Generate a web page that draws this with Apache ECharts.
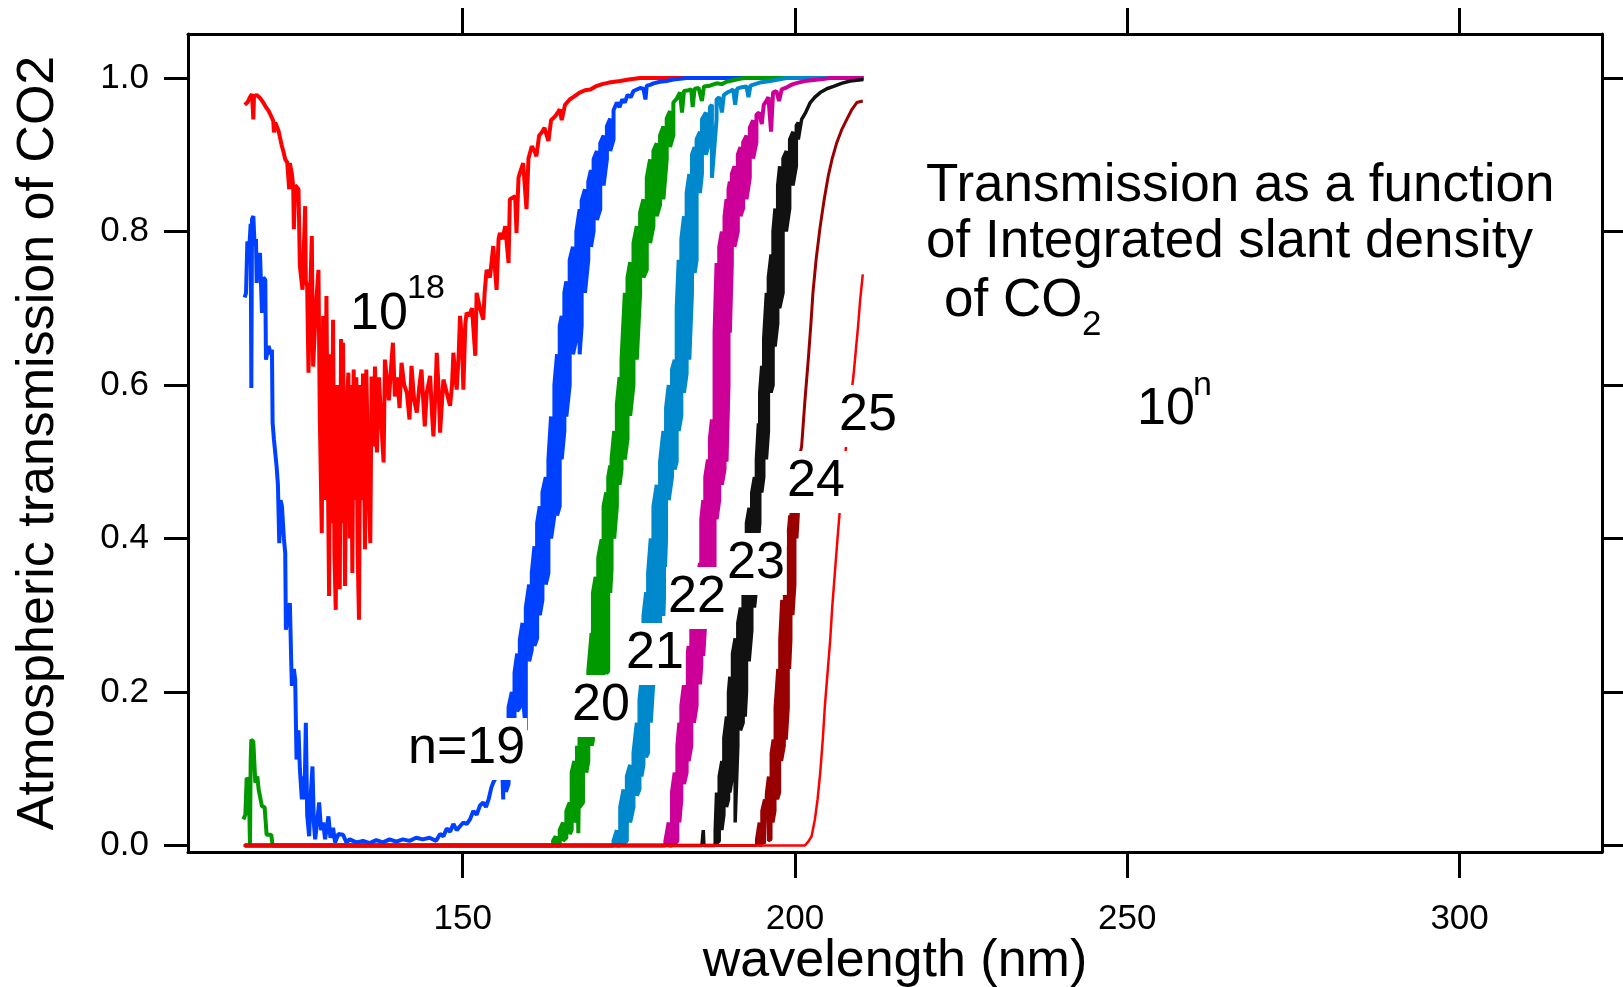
<!DOCTYPE html>
<html>
<head>
<meta charset="utf-8">
<title>Transmission of CO2</title>
<script src="https://cdn.jsdelivr.net/npm/echarts/dist/echarts.min.js"></script>
<style>
  html, body { margin: 0; padding: 0; background: #fff; }
  #chart { width: 1623px; height: 987px; }
</style>
</head>
<body>
<div id="chart"></div>
<script>
// tick positions
var xTicks = [150, 200, 250, 300];
var yTicks = [0, 0.2, 0.4, 0.6, 0.8, 1.0];

// [wavelength nm, transmission]
var n18 = [[117.2,0.965],[117.6,0.968],[118.0,0.975],[118.3,0.979],[118.5,0.946],[118.6,0.976],[119.0,0.978],[119.5,0.974],[120.0,0.968],[120.4,0.962],[120.8,0.957],[121.2,0.950],[121.5,0.944],[121.6,0.929],[121.8,0.942],[122.3,0.931],[122.8,0.911],[123.0,0.905],[123.3,0.894],[123.6,0.890],[123.9,0.855],[124.0,0.889],[124.3,0.875],[124.5,0.859],[124.6,0.803],[124.8,0.860],[125.3,0.855],[125.5,0.755],[125.9,0.724],[126.3,0.833],[126.4,0.735],[126.6,0.729],[126.8,0.616],[127.0,0.700],[127.3,0.794],[127.4,0.700],[127.5,0.624],[127.9,0.700],[128.3,0.750],[128.5,0.560],[128.8,0.407],[129.0,0.690],[129.3,0.450],[129.5,0.716],[129.7,0.500],[129.9,0.325],[130.1,0.640],[130.3,0.420],[130.5,0.685],[130.7,0.380],[130.9,0.307],[131.1,0.600],[131.3,0.360],[131.5,0.334],[131.7,0.660],[131.9,0.420],[132.0,0.655],[132.3,0.338],[132.5,0.560],[132.8,0.616],[133.0,0.400],[133.2,0.600],[133.4,0.355],[133.6,0.620],[133.8,0.450],[134.0,0.610],[134.2,0.380],[134.4,0.294],[134.6,0.600],[134.8,0.450],[135.0,0.615],[135.3,0.386],[135.5,0.620],[135.8,0.480],[136.1,0.394],[136.3,0.611],[136.6,0.520],[136.8,0.624],[137.1,0.512],[137.4,0.610],[137.7,0.560],[138.1,0.499],[138.3,0.633],[138.6,0.607],[138.9,0.580],[139.2,0.620],[139.5,0.655],[139.8,0.585],[140.2,0.610],[140.5,0.570],[140.8,0.629],[141.2,0.600],[141.6,0.590],[142.0,0.555],[142.3,0.625],[142.7,0.580],[143.1,0.564],[143.5,0.600],[143.8,0.620],[144.1,0.575],[144.3,0.546],[144.6,0.590],[145.1,0.612],[145.4,0.560],[145.6,0.533],[145.9,0.590],[146.1,0.642],[146.4,0.590],[146.6,0.538],[146.9,0.580],[147.1,0.607],[147.6,0.590],[148.1,0.573],[148.4,0.600],[148.6,0.642],[148.9,0.610],[149.1,0.594],[149.4,0.640],[149.6,0.690],[149.9,0.660],[150.1,0.594],[150.4,0.680],[150.6,0.694],[151.0,0.690],[151.4,0.700],[151.9,0.638],[152.1,0.720],[152.6,0.700],[153.1,0.685],[153.3,0.720],[153.6,0.750],[154.1,0.740],[154.6,0.781],[155.1,0.724],[155.4,0.790],[155.6,0.798],[156.0,0.790],[156.4,0.807],[156.9,0.759],[157.1,0.842],[157.4,0.842],[157.9,0.846],[158.1,0.798],[158.4,0.870],[158.6,0.876],[159.1,0.889],[159.6,0.829],[159.9,0.895],[160.4,0.911],[160.8,0.905],[161.1,0.898],[161.5,0.925],[161.9,0.929],[162.3,0.935],[162.6,0.937],[162.9,0.918],[163.3,0.945],[163.9,0.950],[164.3,0.955],[164.6,0.959],[164.9,0.945],[165.4,0.965],[166.1,0.972],[166.8,0.976],[167.6,0.981],[168.4,0.984],[169.2,0.985],[170.0,0.989],[171.0,0.992],[172.0,0.994],[173.7,0.996],[175.0,0.998],[176.7,1.0],[210.3,1.0]];

var n19 = [[117.2,0.714],[117.4,0.720],[117.6,0.787],[117.9,0.780],[118.1,0.810],[118.2,0.596],[118.3,0.816],[118.5,0.820],[118.7,0.781],[118.9,0.790],[119.0,0.733],[119.2,0.760],[119.5,0.772],[119.8,0.694],[120.0,0.740],[120.3,0.737],[120.4,0.633],[120.8,0.651],[121.1,0.640],[121.3,0.646],[121.4,0.551],[121.6,0.529],[122.0,0.494],[122.2,0.470],[122.4,0.394],[122.6,0.450],[122.8,0.442],[123.1,0.400],[123.3,0.381],[123.4,0.281],[123.7,0.300],[124.0,0.316],[124.2,0.240],[124.3,0.208],[124.6,0.230],[124.8,0.216],[125.0,0.112],[125.3,0.150],[125.5,0.100],[125.8,0.060],[126.0,0.090],[126.2,0.060],[126.4,0.160],[126.6,0.040],[126.9,0.012],[127.1,0.060],[127.4,0.103],[127.6,0.030],[127.8,0.008],[128.1,0.030],[128.4,0.056],[128.7,0.020],[129.0,0.030],[129.3,0.008],[129.8,0.038],[130.1,0.010],[130.5,0.023],[130.8,0.004],[131.3,0.015],[132.0,0.014],[132.5,0.004],[133.0,0.008],[134.0,0.004],[135.0,0.006],[136.0,0.003],[137.0,0.007],[138.0,0.004],[139.0,0.008],[140.0,0.005],[141.0,0.008],[142.0,0.006],[143.0,0.010],[144.0,0.008],[145.0,0.010],[146.0,0.006],[146.6,0.015],[147.1,0.012],[147.6,0.022],[148.1,0.018],[148.6,0.028],[149.1,0.020],[149.6,0.025],[150.1,0.030],[150.6,0.028],[151.1,0.034],[151.6,0.045],[152.1,0.040],[152.6,0.052],[153.1,0.056],[153.5,0.050],[153.9,0.060],[154.3,0.075],[154.6,0.082],[155.1,0.090],[155.6,0.095],[156.0,0.088],
  [156.1,0.06],[156.1,0.09],[156.5,0.12],[156.5,0.07],[156.9,0.08],[156.9,0.18],[157.4,0.20],[157.4,0.09],[157.8,0.16],[157.8,0.225],[158.2,0.25],[158.2,0.175],[158.6,0.18],[158.6,0.268],[159.0,0.29],[159.0,0.20],[159.5,0.15],[159.5,0.31],[160.0,0.34],[160.0,0.24],[160.4,0.255],[160.4,0.355],[160.8,0.39],[160.8,0.26],[161.2,0.27],[161.2,0.42],[161.6,0.442],[161.6,0.30],[162.0,0.32],[162.0,0.46],[162.5,0.48],[162.5,0.34],[162.9,0.355],[162.9,0.503],[163.3,0.559],[163.3,0.40],[163.8,0.43],[163.8,0.60],[164.2,0.64],[164.2,0.43],[164.6,0.442],[164.6,0.677],[164.9,0.69],[164.9,0.503],[165.3,0.54],[165.3,0.72],[165.6,0.735],[165.6,0.559],[166.1,0.60],[166.1,0.763],[166.6,0.78],[166.6,0.64],[167.1,0.66],[167.1,0.80],[167.6,0.829],[167.6,0.64],[167.9,0.677],[167.9,0.84],[168.4,0.855],[168.4,0.72],[168.9,0.763],[168.9,0.865],[169.3,0.88],[169.3,0.78],[169.7,0.80],[169.7,0.894],[170.2,0.905],[170.2,0.815],[170.7,0.829],[170.7,0.915],[171.2,0.925],[171.2,0.86],[171.7,0.894],[171.7,0.937],[172.2,0.947],[172.2,0.905],[172.7,0.92],[172.7,0.958],[173.2,0.968],
  [173.6,0.962],[174.0,0.972],[174.4,0.968],[174.8,0.978],[175.3,0.975],[175.7,0.983],[176.2,0.985],[176.7,0.987],[177.2,0.986],[177.5,0.972],[177.7,0.990],[178.2,0.991],[178.7,0.993],[179.7,0.995],[180.7,0.996],[181.7,0.998],[182.7,0.999],[183.7,1.0],[210.3,1.0]];

var n20 = [[117.0,0.034],[117.3,0.040],[117.5,0.088],[117.8,0.085],[118.0,0.0],[118.1,0.110],[118.2,0.138],[118.5,0.135],[118.8,0.082],[119.1,0.090],[119.3,0.073],[119.6,0.075],[119.8,0.051],[120.2,0.050],[120.5,0.014],[121.2,0.014],[121.4,0.0],[163.0,0.0],
  [163.6,0],[163.6,0.006],[164.0,0.012],[164.0,0],[164.6,0],[164.6,0.02],[165.1,0.03],[165.1,0.006],[165.6,0.01],[165.6,0.045],[166.1,0.056],[166.1,0.015],[166.4,0.02],[166.4,0.095],[166.8,0.11],[166.8,0.03],[167.2,0.04],[167.2,0.13],[167.4,0.016],[167.6,0.147],[167.6,0.05],[168.1,0.056],[168.1,0.18],[168.6,0.21],[168.6,0.095],[168.9,0.11],[168.9,0.227],[169.4,0.277],[169.4,0.13],[169.6,0.137],[169.6,0.329],[170.0,0.35],[170.0,0.145],[170.4,0.147],[170.4,0.375],[170.9,0.399],[170.9,0.18],[171.2,0.2],[171.2,0.442],[171.6,0.46],[171.6,0.224],[171.9,0.227],[171.9,0.48],[172.2,0.495],[172.2,0.329],[172.4,0.36],[172.4,0.503],[172.8,0.54],[172.8,0.40],[173.2,0.442],[173.2,0.575],[173.6,0.61],[173.6,0.47],[173.9,0.49],[173.9,0.633],[174.4,0.72],[174.4,0.503],[174.8,0.53],[174.8,0.74],[175.2,0.76],[175.2,0.56],[175.7,0.60],[175.7,0.785],[176.2,0.807],[176.2,0.633],[176.7,0.72],[176.7,0.825],[177.2,0.842],[177.2,0.74],[177.7,0.75],[177.7,0.87],[178.2,0.894],[178.2,0.785],[178.7,0.807],[178.7,0.905],[179.2,0.915],[179.2,0.82],[179.7,0.835],[179.7,0.925],[180.2,0.937],[180.2,0.842],[180.7,0.894],[180.7,0.947],[181.2,0.957],[181.2,0.91],[181.7,0.925],[181.7,0.968],
  [182.2,0.973],[182.7,0.981],[183.0,0.955],[183.3,0.983],[184.0,0.984],[184.4,0.985],[184.6,0.962],[184.9,0.986],[185.5,0.987],[185.8,0.988],[186.0,0.970],[186.3,0.989],[187.2,0.990],[188.2,0.993],[189.0,0.992],[189.7,0.995],[190.7,0.997],[191.7,0.999],[192.5,1.0],[210.3,1.0]];

var n21 = [[117.2,0],[172.7,0],[172.7,0.006],[173.2,0.02],[173.2,0],[173.7,0],[173.7,0.05],[174.2,0.073],[174.2,0.003],[174.7,0.006],[174.7,0.09],[175.2,0.105],[175.2,0.03],[175.7,0.05],[175.7,0.121],[176.2,0.16],[176.2,0.065],[176.6,0.073],[176.6,0.19],[176.9,0.214],[176.9,0.09],[177.2,0.105],[177.2,0.299],[177.6,0.33],[177.6,0.115],[177.9,0.121],[177.9,0.355],[178.3,0.40],[178.3,0.16],[178.7,0.214],[178.7,0.442],[179.2,0.47],[179.2,0.25],[179.7,0.27],[179.7,0.50],[180.2,0.54],[180.2,0.299],[180.6,0.40],[180.6,0.57],[181.0,0.60],[181.0,0.45],[181.5,0.48],[181.5,0.62],[181.9,0.633],[181.9,0.49],[182.2,0.50],[182.2,0.70],[182.5,0.763],[182.5,0.54],[182.9,0.56],[182.9,0.79],[183.3,0.82],[183.3,0.59],[183.7,0.615],[183.7,0.85],[184.1,0.875],[184.1,0.633],[184.5,0.72],[184.5,0.90],[184.9,0.91],[184.9,0.746],[185.2,0.763],[185.2,0.92],[185.7,0.93],[185.7,0.85],[186.0,0.875],[186.0,0.946],[186.6,0.955],[186.6,0.90],[187.2,0.92],[187.2,0.962],[187.5,0.965],[187.5,0.87],[188.2,0.946],[188.2,0.972],
  [188.6,0.975],[189.0,0.955],[189.3,0.978],[189.8,0.981],[190.3,0.983],[190.7,0.985],[191.0,0.965],[191.3,0.986],[192.0,0.988],[192.7,0.989],[193.0,0.975],[193.3,0.990],[194.0,0.992],[194.7,0.994],[195.5,0.995],[196.3,0.996],[197.5,0.998],[198.7,1.0],[210.3,1.0]];

var n22 = [[117.2,0],[180.5,0],[180.5,0.006],[181.0,0.03],[181.0,0],[181.5,0],[181.5,0.07],[181.9,0.095],[181.9,0.002],[182.3,0.006],[182.3,0.13],[182.6,0.16],[182.6,0.03],[182.9,0.06],[182.9,0.182],[183.3,0.21],[183.3,0.08],[183.7,0.095],[183.7,0.24],[184.0,0.26],[184.0,0.11],[184.4,0.13],[184.4,0.29],[184.8,0.32],[184.8,0.16],[185.2,0.182],[185.2,0.34],[185.7,0.368],[185.7,0.21],[185.9,0.235],[185.9,0.425],[186.2,0.45],[186.2,0.247],[186.5,0.29],[186.5,0.48],[186.9,0.503],[186.9,0.31],[187.2,0.33],[187.2,0.53],[187.5,0.555],[187.5,0.34],[187.9,0.36],[187.9,0.668],[188.2,0.759],[188.2,0.425],[188.6,0.45],[188.6,0.78],[189.0,0.80],[189.0,0.47],[189.4,0.49],[189.4,0.82],[189.7,0.842],[189.7,0.50],[190.0,0.60],[190.0,0.855],[190.2,0.865],[190.2,0.668],[190.5,0.759],[190.5,0.875],[190.9,0.885],[190.9,0.78],[191.4,0.80],[191.4,0.90],[191.8,0.91],[191.8,0.82],[192.2,0.83],[192.2,0.916],[192.7,0.925],[192.7,0.842],[193.2,0.87],[193.2,0.935],[193.7,0.945],[193.7,0.895],[194.2,0.916],[194.2,0.952],
  [194.6,0.955],[195.0,0.940],[195.3,0.965],[195.7,0.970],[196.0,0.975],[196.4,0.930],[196.7,0.981],[197.2,0.983],[197.6,0.970],[198.0,0.985],[198.6,0.987],[199.2,0.990],[199.7,0.992],[200.5,0.994],[201.5,0.996],[202.5,0.997],[203.5,0.998],[204.5,0.999],[205.3,1.0],[210.3,1.0]];

var n23 = [[117.2,0],[186.0,0],[186.2,0.02],[186.3,0],[188.0,0],[188.0,0.02],[188.2,0.069],[188.2,0.002],[188.6,0.006],[188.6,0.09],[189.0,0.11],[189.0,0.02],[189.3,0.04],[189.3,0.14],[189.7,0.168],[189.7,0.05],[190.0,0.06],[190.0,0.20],[190.2,0.22],[190.2,0.069],[190.6,0.09],[190.6,0.25],[191.0,0.27],[191.0,0.03],[191.4,0.13],[191.4,0.29],[191.8,0.31],[191.8,0.15],[192.2,0.16],[192.2,0.334],[192.5,0.38],[192.5,0.168],[192.7,0.20],[192.7,0.42],[193.1,0.44],[193.1,0.24],[193.5,0.28],[193.5,0.46],[193.9,0.48],[193.9,0.31],[194.2,0.334],[194.2,0.503],[194.5,0.55],[194.5,0.40],[194.7,0.42],[194.7,0.59],[195.0,0.625],[195.0,0.46],[195.3,0.48],[195.3,0.66],[195.7,0.72],[195.7,0.503],[196.0,0.54],[196.0,0.74],[196.4,0.77],[196.4,0.59],[196.7,0.60],[196.7,0.80],[197.0,0.83],[197.0,0.65],[197.4,0.68],[197.4,0.86],[197.7,0.885],[197.7,0.70],[198.2,0.72],[198.2,0.895],[198.7,0.905],[198.7,0.80],[199.2,0.83],[199.2,0.92],[199.7,0.93],[199.7,0.86],[200.2,0.885],[200.2,0.938],[200.5,0.942],[200.5,0.92],[201.0,0.946],[201.6,0.955],[202.3,0.968],[203.0,0.975],[203.8,0.981],[204.8,0.986],[205.8,0.989],[207.0,0.993],[208.3,0.996],[209.3,0.997],[210.3,0.998]];

var n24 = [[117.2,0],[194.2,0],[194.2,0.008],[194.6,0.03],[194.6,0],[195.0,0],[195.0,0.045],[195.4,0.06],[195.4,0.002],[195.7,0.004],[195.7,0.069],[196.0,0.09],[196.0,0.006],[196.4,0.008],[196.4,0.12],[196.7,0.138],[196.7,0.03],[197.0,0.045],[197.0,0.18],[197.4,0.23],[197.4,0.06],[197.7,0.069],[197.7,0.268],[198.0,0.32],[198.0,0.11],[198.4,0.13],[198.4,0.36],[198.7,0.39],[198.7,0.138],[199.0,0.18],[199.0,0.41],[199.2,0.43],[199.2,0.23],[199.4,0.268],[199.4,0.438],[199.7,0.45],[199.7,0.30],[200.0,0.34],[200.0,0.47],[200.3,0.49],[200.3,0.40],[200.5,0.43],[200.5,0.50],[201.0,0.52],[201.5,0.58],[202.0,0.633],[202.4,0.68],[202.7,0.72],[203.2,0.765],[203.8,0.807],[204.4,0.842],[205.0,0.872],[205.6,0.895],[206.3,0.916],[207.0,0.932],[207.8,0.946],[208.5,0.958],[209.3,0.968],[210.2,0.970]];

var n25 = [[117.0,0],[201.5,0],[202.0,0.005],[202.5,0.012],[203.0,0.034],[203.4,0.06],[203.8,0.095],[204.2,0.14],[204.5,0.182],[204.9,0.225],[205.3,0.268],[205.6,0.31],[206.0,0.355],[206.4,0.40],[206.8,0.442],[207.2,0.48],[207.5,0.505],[207.8,0.529],[208.1,0.56],[208.5,0.59],[208.8,0.612],[209.1,0.64],[209.5,0.677],[209.8,0.71],[210.2,0.744]];

var FONT = '"Liberation Sans", Arial, sans-serif';

var chart = echarts.init(document.getElementById('chart'), null, { renderer: 'canvas' });

function curve(name, data, color, width) {
  return {
    name: name, type: 'line', data: data,
    showSymbol: false, symbol: 'none', animation: false, silent: true,
    lineStyle: { color: color, width: width, join: 'bevel', cap: 'butt' },
    z: 2
  };
}

// text box; masked ones get an opaque white box like the original labels
function txt(text, x, y, size, masked) {
  var st = {
    text: text, x: x, y: y,
    font: size + 'px ' + FONT, fill: '#000',
    align: 'left', verticalAlign: 'middle', lineHeight: size
  };
  if (masked) { st.backgroundColor = '#fff'; st.padding = [9, 2, 1, 2]; }
  return { type: 'text', z: 100, silent: true, style: st };
}

function frameX(pos, showLabel) {
  return {
    type: 'value', position: pos, min: 108.67, max: 321.43,
    axisLine: { show: true, onZero: false, lineStyle: { color: '#000', width: 3 } },
    axisTick: { show: true, inside: false, customValues: xTicks, length: 26, lineStyle: { color: '#000', width: 3 } },
    axisLabel: { show: showLabel, customValues: xTicks, color: '#000', fontSize: 35, fontFamily: FONT, margin: 50 },
    splitLine: { show: false }
  };
}

function frameY(pos, showLabel) {
  return {
    type: 'value', position: pos, min: -0.0085, max: 1.0573,
    axisLine: { show: true, onZero: false, lineStyle: { color: '#000', width: 3 } },
    axisTick: { show: true, inside: false, customValues: yTicks, length: pos === 'left' ? 24 : 21, lineStyle: { color: '#000', width: 3 } },
    axisLabel: { show: showLabel, customValues: yTicks, color: '#000', fontSize: 35, fontFamily: FONT, margin: 39,
      formatter: function (v) { return v.toFixed(1); } },
    splitLine: { show: false }
  };
}

var xBottom = frameX('bottom', true);
xBottom.name = 'wavelength (nm)';
xBottom.nameLocation = 'middle';
xBottom.nameGap = 84;
xBottom.nameMoveOverlap = false;
xBottom.nameTextStyle = { fontSize: 52, fontFamily: FONT, color: '#000' };

var yLeft = frameY('left', true);
yLeft.name = 'Atmospheric transmission of CO2';
yLeft.nameLocation = 'middle';
yLeft.nameRotate = 90;
yLeft.nameGap = 123;
yLeft.nameMoveOverlap = false;
yLeft.nameTextStyle = { fontSize: 52, fontFamily: FONT, color: '#000' };

var option = {
  backgroundColor: '#fff',
  animation: false,
  grid: { left: 188, right: 21, top: 34, bottom: 135, containLabel: false, outerBoundsMode: 'none' },
  xAxis: [xBottom, frameX('top', false)],
  yAxis: [yLeft, frameY('right', false)],
  series: [
    curve('1e18', n18, '#ff0000', 4),
    curve('1e19', n19, '#0040ff', 4),
    curve('1e20', n20, '#009900', 4),
    curve('1e21', n21, '#0088cc', 4),
    curve('1e22', n22, '#cc0099', 4),
    curve('1e23', n23, '#111111', 3.5),
    curve('1e24', n24, '#990000', 3),
    curve('1e25', n25, '#ff0000', 2.5)
  ],
  graphic: [
    txt('10', 350, 315, 52, false),
    txt('18', 407, 289, 34, false),
    txt('n=19', 406, 749, 52, true),
    txt('20', 570, 706, 52, true),
    txt('21', 624, 654, 52, true),
    txt('22', 666, 598, 52, true),
    txt('23', 725, 564, 52, true),
    txt('24', 785, 482, 52, true),
    txt('25', 837, 416, 52, true),
    txt('Transmission as a function', 926, 186, 53, false),
    txt('of Integrated slant density', 926, 242, 53, false),
    txt('of CO', 944, 301, 53, false),
    txt('2', 1082, 325, 35, false),
    txt('10', 1137, 410, 52, false),
    txt('n', 1193, 386, 34, false)
  ]
};

chart.setOption(option);
window.addEventListener('resize', chart.resize);
</script>
</body>
</html>
